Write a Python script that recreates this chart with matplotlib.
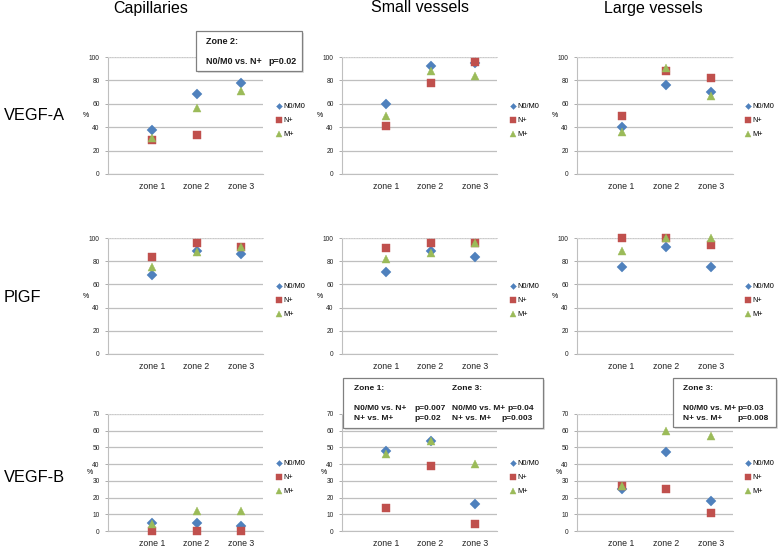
import matplotlib
matplotlib.use("Agg")
import matplotlib.pyplot as plt
from matplotlib.patches import Rectangle
import numpy as np

plt.rcParams['font.family'] = ['Liberation Sans', 'DejaVu Sans']

W, H = 778, 549

columns = ["Capillaries", "Small vessels", "Large vessels"]
rows = ["VEGF-A", "PlGF", "VEGF-B"]
zones = ["zone 1", "zone 2", "zone 3"]
series = ["N0/M0", "N+", "M+"]

# values per panel: N0/M0, N+, M+ (percent)
vegfa_cap_n0m0 = [38, 68, 78]
vegfa_cap_np = [29, 33, np.nan]
vegfa_cap_mp = [31, 56, 71]
vegfa_small_n0m0 = [60, 92, 95]
vegfa_small_np = [41, 78, 96]
vegfa_small_mp = [50, 88, 84]
vegfa_large_n0m0 = [40, 76, 70]
vegfa_large_np = [50, 88, 82]
vegfa_large_mp = [36, 91, 67]

plgf_cap_n0m0 = [68, 89, 86]
plgf_cap_np = [84, 96, 92]
plgf_cap_mp = [75, 88, 92]
plgf_small_n0m0 = [71, 89, 84]
plgf_small_np = [91, 96, 96]
plgf_small_mp = [82, 87, 96]
plgf_large_n0m0 = [75, 92, 75]
plgf_large_np = [100, 100, 94]
plgf_large_mp = [89, 100, 100]

vegfb_cap_n0m0 = [5, 5, 3]
vegfb_cap_np = [0, 0, 0]
vegfb_cap_mp = [4, 12, 12]
vegfb_small_n0m0 = [48, 54, 16]
vegfb_small_np = [14, 39, 4]
vegfb_small_mp = [46, 54, 40]
vegfb_large_n0m0 = [25, 47, 18]
vegfb_large_np = [27, 25, 11]
vegfb_large_mp = [27, 60, 57]

panels = [
    [(vegfa_cap_n0m0, vegfa_cap_np, vegfa_cap_mp),
     (vegfa_small_n0m0, vegfa_small_np, vegfa_small_mp),
     (vegfa_large_n0m0, vegfa_large_np, vegfa_large_mp)],
    [(plgf_cap_n0m0, plgf_cap_np, plgf_cap_mp),
     (plgf_small_n0m0, plgf_small_np, plgf_small_mp),
     (plgf_large_n0m0, plgf_large_np, plgf_large_mp)],
    [(vegfb_cap_n0m0, vegfb_cap_np, vegfb_cap_mp),
     (vegfb_small_n0m0, vegfb_small_np, vegfb_small_mp),
     (vegfb_large_n0m0, vegfb_large_np, vegfb_large_mp)],
]
row_ymax = [100, 100, 70]
row_ystep = [20, 20, 10]

colors = ['#4F81BD', '#C0504D', '#9BBB59']
markers = ['D', 's', '^']
msizes = [4.8, 6.2, 6.4]

col_x = [(108, 263), (342, 497), (577, 733)]
row_y = [(57, 174), (238, 354), (414, 531)]
legend_x = [276, 510, 745]
legend_y = [103, 283, 460]

fig = plt.figure(figsize=(W / 100, H / 100), dpi=100)
fig.patch.set_facecolor('white')


def fx(px):
    return px / W


def fy(py):
    return 1 - py / H


for r in range(3):
    for c in range(3):
        x0, x1 = col_x[c]
        y0, y1 = row_y[r]
        ax = fig.add_axes([fx(x0), fy(y1), (x1 - x0) / W, (y1 - y0) / H])
        ax.set_xlim(0, 3.5)
        ax.set_ylim(0, row_ymax[r])
        ax.set_yticks(np.arange(0, row_ymax[r] + 1, row_ystep[r]))
        ax.set_xticks([1, 2, 3])
        ax.set_xticklabels(zones, fontsize=6.3, color='#222222')
        ax.tick_params(axis='x', length=0, pad=6)
        ax.tick_params(axis='y', length=2, width=0.6, color='#A0A0A0',
                       labelsize=4.8, pad=4, labelcolor='#222222')
        ax.yaxis.grid(True, color='#BFBFBF', lw=0.9)
        ax.set_axisbelow(True)
        ax.spines['top'].set_color('#D9D9D9')
        ax.spines['top'].set_linestyle(':')
        ax.spines['top'].set_linewidth(0.7)
        ax.spines['right'].set_visible(False)
        ax.spines['left'].set_color('#BFBFBF')
        ax.spines['bottom'].set_color('#BFBFBF')
        ax.spines['left'].set_linewidth(0.8)
        ax.spines['bottom'].set_linewidth(0.8)
        ax.set_ylabel('%', fontsize=5, rotation=0, labelpad=2, va='center')
        xs = np.array([1, 2, 3])
        handles = []
        for k in range(3):
            h, = ax.plot(xs, panels[r][c][k], linestyle='none', marker=markers[k],
                         ms=msizes[k], color=colors[k], mec=colors[k], mew=0.3,
                         label=series[k], clip_on=False, zorder=3)
            handles.append(h)
        ax.legend(handles=handles, loc='upper left',
                  bbox_to_anchor=(fx(legend_x[c]), fy(legend_y[r])),
                  bbox_transform=fig.transFigure, frameon=False,
                  fontsize=5.3, handlelength=0.7, handletextpad=0.3,
                  labelspacing=0.95, markerscale=0.62, borderpad=0,
                  borderaxespad=0)

# column titles
title_x = [151, 420, 653]
for c in range(3):
    fig.text(fx(title_x[c]), fy(8), columns[c], fontsize=11.5, ha='center', va='center')

# row labels
row_label_y = [116, 297, 478]
for r in range(3):
    fig.text(fx(4), fy(row_label_y[r]), rows[r], fontsize=11.8, ha='left', va='center')


def draw_box(x0, y0, x1, y1):
    shadow = Rectangle((fx(x0 + 2), fy(y1 + 2)), (x1 - x0) / W, (y1 - y0) / H,
                       transform=fig.transFigure, facecolor='#CCCCCC',
                       edgecolor='none', alpha=0.6, zorder=9)
    box = Rectangle((fx(x0), fy(y1)), (x1 - x0) / W, (y1 - y0) / H,
                    transform=fig.transFigure, facecolor='white',
                    edgecolor='#808080', lw=0.9, zorder=10)
    fig.patches.append(shadow)
    fig.patches.append(box)


def btext(x, y, s, size=6.0):
    fig.text(fx(x), fy(y), s, fontsize=size, fontweight='bold', ha='left',
             va='center', zorder=11, color='#1a1a1a')


# Box 1: Capillaries VEGF-A
draw_box(196, 31, 302, 71)
btext(206, 42, "Zone 2:", 6.5)
btext(206, 61, "N0/M0 vs. N+", 6.5)
btext(268, 61, "p=0.02", 6.5)

# Box 2: Small vessels VEGF-B
draw_box(343, 378, 543, 428)
btext(354, 389, "Zone 1:")
btext(354, 408, "N0/M0 vs. N+")
btext(414, 408, "p=0.007")
btext(354, 419, "N+ vs. M+")
btext(414, 419, "p=0.02")
btext(452, 389, "Zone 3:")
btext(452, 408, "N0/M0 vs. M+")
btext(507, 408, "p=0.04")
btext(452, 419, "N+ vs. M+")
btext(501, 419, "p=0.003")

# Box 3: Large vessels VEGF-B
draw_box(673, 378, 776, 427)
btext(683, 389, "Zone 3:")
btext(683, 408, "N0/M0 vs. M+")
btext(737, 408, "p=0.03")
btext(683, 419, "N+ vs. M+")
btext(737, 419, "p=0.008")

fig.savefig("out.png", dpi=100)
